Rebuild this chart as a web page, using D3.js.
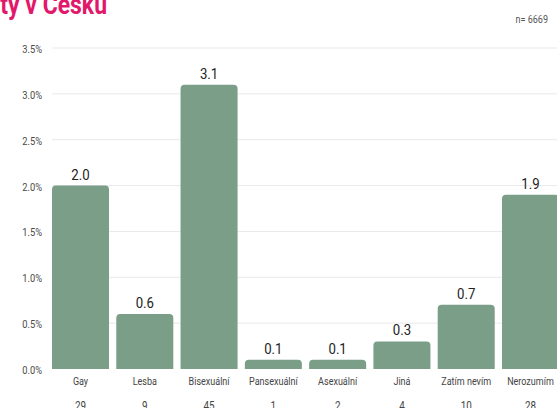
<!DOCTYPE html>
<html><head><meta charset="utf-8">
<script src="https://cdn.jsdelivr.net/npm/d3@7"></script>
<style>
html,body{margin:0;padding:0;background:#fff;overflow:hidden}
text{font-family:"Roboto","DejaVu Sans",sans-serif}
</style></head>
<body>
<svg id="c" width="557" height="408"></svg>
<script>
const categories = ["Gay","Lesba","Bisexuální","Pansexuální","Asexuální","Jiná","Zatím nevím","Nerozumím"];
const values = [2.0, 0.6, 3.1, 0.1, 0.1, 0.3, 0.7, 1.9];
const counts = [29, 9, 45, 1, 2, 4, 10, 28];
const yTicks = [0, 0.5, 1.0, 1.5, 2.0, 2.5, 3.0, 3.5];
const title = "Sexuální identity v Česku";
const nLabel = "n= 6669";

const svg = d3.select("#c");
const x = d3.scaleBand().domain(categories).range([52, 559]).paddingInner(0.113).paddingOuter(0);
const y = d3.scaleLinear().domain([0, 3.5]).range([369, 48]);
const sx = 0.82;
const place = (px, py) => `translate(${px},${py}) scale(${sx},1)`;

svg.append("text").attr("transform", place(107, 14)).attr("text-anchor", "end")
  .attr("font-size", 28).attr("font-weight", "bold").attr("fill", "#e2186a").text(title);
svg.append("text").attr("transform", place(548, 23)).attr("text-anchor", "end")
  .attr("font-size", 11).attr("fill", "#555").text(nLabel);

svg.append("g").selectAll("line").data(yTicks.filter(d => d > 0)).join("line")
  .attr("x1", 52).attr("x2", 557).attr("y1", d => y(d)).attr("y2", d => y(d))
  .attr("stroke", "#e9e9e9").attr("stroke-width", 1);

const yAxis = d3.axisLeft(y).tickValues(yTicks).tickFormat(d => d.toFixed(1) + "%").tickSize(0).tickPadding(0);
const gy = svg.append("g").attr("transform", "translate(42,1)").call(yAxis);
gy.select(".domain").remove();
gy.selectAll("text").attr("font-size", 11).attr("fill", "#4a4a4a").attr("font-family", null)
  .attr("transform", "scale(0.85,1)");

const r = 4;
svg.append("g").selectAll("path").data(categories).join("path")
  .attr("fill", "#7a9e87")
  .attr("d", (c, i) => {
    const x0 = x(c), w = x.bandwidth(), y0 = y(values[i]), yb = y(0);
    const rr = Math.min(r, (yb - y0));
    return `M${x0},${yb}V${y0 + rr}Q${x0},${y0} ${x0 + rr},${y0}H${x0 + w - rr}Q${x0 + w},${y0} ${x0 + w},${y0 + rr}V${yb}Z`;
  });

svg.append("g").selectAll("text").data(categories).join("text")
  .attr("transform", (c, i) => `translate(${x(c) + x.bandwidth() / 2},${y(values[i]) - 6}) scale(0.88,1)`)
  .attr("text-anchor", "middle").attr("font-size", 15).attr("fill", "#222")
  .text((c, i) => values[i].toFixed(1));

svg.append("g").selectAll("text").data(categories).join("text")
  .attr("transform", c => place(x(c) + x.bandwidth() / 2, 385))
  .attr("text-anchor", "middle").attr("font-size", 11).attr("fill", "#444")
  .text(c => c);

svg.append("g").selectAll("text").data(categories).join("text")
  .attr("transform", c => place(x(c) + x.bandwidth() / 2, 410))
  .attr("text-anchor", "middle").attr("font-size", 12).attr("fill", "#444")
  .text((c, i) => counts[i]);
</script>
</body></html>
